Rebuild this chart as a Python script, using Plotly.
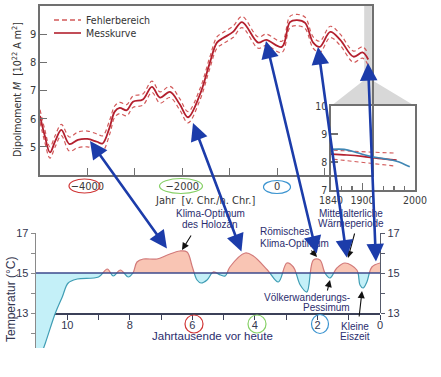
import plotly.graph_objects as go

W, H = 441, 377


def px(x):
    return x / W


def py(y):
    return 1 - y / H


# ---------------- data ----------------
# Top chart: geomagnetic dipole moment (10^22 A m^2) vs. year
dip_year = [-5000, -4900, -4790, -4680, -4550, -4380, -4200, -4000, -3800, -3680,
            -3530, -3425, -3320, -3170, -3040, -2830, -2640, -2470, -2260, -2050,
            -1880, -1630, -1420, -1270, -1140, -930, -740, -400, -230, 100,
            270, 420, 590, 760, 900, 1120, 1330, 1610, 1800, 1920]
dip_val = [6.1, 5.4, 4.8, 5.2, 5.6, 5.1, 5.25, 5.28, 5.18, 5.12,
           5.7, 6.25, 6.38, 6.3, 6.6, 6.68, 7.13, 6.75, 6.95, 6.5,
           6.05, 6.85, 7.98, 8.7, 8.86, 9.08, 9.43, 8.7, 8.8, 8.55,
           9.43, 9.5, 9.4, 8.7, 8.55, 9.08, 8.8, 8.2, 8.35, 8.1]
dip_err = [0.22, 0.22, 0.2, 0.2, 0.2, 0.25, 0.28, 0.28, 0.28, 0.27,
           0.25, 0.2, 0.2, 0.2, 0.2, 0.2, 0.2, 0.2, 0.2, 0.2,
           0.2, 0.2, 0.2, 0.2, 0.2, 0.2, 0.2, 0.2, 0.2, 0.2,
           0.2, 0.2, 0.2, 0.2, 0.2, 0.2, 0.2, 0.2, 0.2, 0.2]
dip_xticks = [-4000, -2000, 0]
dip_xticklabels = ["\u22124000", "\u22122000", "0"]
dip_xminor = [-3000, -1000, 1000]
dip_yticks = [5, 6, 7, 8, 9, 10]

# Inset 1840-2000
ins_blue_year = [1840, 1865, 1890, 1915, 1940, 1965, 1990]
ins_blue = [8.45, 8.45, 8.33, 8.2, 8.12, 8.03, 7.83]
ins_red_year = [1840, 1870, 1900, 1930, 1965]
ins_red = [8.28, 8.25, 8.2, 8.13, 8.07]
ins_band_year = [1845, 1880, 1920, 1960]
ins_hi = [8.42, 8.38, 8.35, 8.32]
ins_lo = [8.1, 8.03, 7.95, 7.86]
ins_xticks = [1840, 1900, 2000]
ins_yticks = [7, 8, 9, 10]

# Bottom chart: temperature (deg C) vs. millennia before today
T_ka = [11.0, 10.7, 10.38, 10.16, 9.97, 9.68, 9.0, 8.72, 8.53, 8.3,
        8.05, 7.9, 7.77, 7.57, 7.13, 6.8, 6.4, 6.17, 6.0, 5.85,
        5.72, 5.53, 5.33, 5.1, 4.95, 4.8, 4.31, 4.05, 3.6, 3.25,
        2.98, 2.77, 2.55, 2.34, 2.13, 1.92, 1.76, 1.6, 1.38, 1.12,
        0.74, 0.64, 0.54, 0.42, 0.26, 0.0]
T_val = [10.2, 11.5, 13.0, 13.8, 14.5, 14.7, 14.8, 15.2, 14.85, 15.15,
         14.8, 15.0, 15.55, 15.7, 15.7, 15.9, 16.1, 16.05, 15.3, 14.65,
         14.5, 14.65, 15.05, 14.9, 14.85, 15.3, 16.0, 15.85, 15.15, 14.55,
         15.5, 15.3, 14.4, 14.05, 15.65, 15.65, 15.0, 14.75, 15.25, 15.5,
         15.15, 14.4, 14.25, 14.55, 15.3, 15.5]
T_REF = 15
T_RANGE_KA = [11, 0]
T_xticks = [10, 8, 6, 4, 2, 0]
T_yticks = [13, 15, 17]

# ---------------- styles ----------------
TOPFONT = "Liberation Sans Narrow, DejaVu Sans Condensed, Arial Narrow, sans-serif"
BOTFONT = "Liberation Sans, Arial, sans-serif"
AXC = "#707070"
RED = "#b3202e"
RED_D = "#d25a5a"
BLUE_ARROW = "#1c3caa"
NAVY = "#2b2d6e"

fig = go.Figure()

# ---- top chart ----
fig.add_trace(go.Scatter(x=dip_year, y=[v + e for v, e in zip(dip_val, dip_err)],
                         mode="lines", line=dict(color=RED_D, width=1.2, dash="4px,3px", shape="spline"),
                         xaxis="x", yaxis="y", hoverinfo="skip"))
fig.add_trace(go.Scatter(x=dip_year, y=[v - e for v, e in zip(dip_val, dip_err)],
                         mode="lines", line=dict(color=RED_D, width=1.2, dash="4px,3px", shape="spline"),
                         xaxis="x", yaxis="y", hoverinfo="skip"))
fig.add_trace(go.Scatter(x=dip_year, y=dip_val, mode="lines",
                         line=dict(color=RED, width=1.8, shape="spline"),
                         xaxis="x", yaxis="y", name="Messkurve"))

# ---- inset ----
fig.add_trace(go.Scatter(x=ins_band_year, y=ins_hi, mode="lines",
                         line=dict(color=RED_D, width=1.1, dash="4px,3px"), xaxis="x2", yaxis="y2"))
fig.add_trace(go.Scatter(x=ins_band_year, y=ins_lo, mode="lines",
                         line=dict(color=RED_D, width=1.1, dash="4px,3px"), xaxis="x2", yaxis="y2"))
fig.add_trace(go.Scatter(x=ins_red_year, y=ins_red, mode="lines",
                         line=dict(color=RED, width=1.6, shape="spline"), xaxis="x2", yaxis="y2"))
fig.add_trace(go.Scatter(x=ins_blue_year, y=ins_blue, mode="lines",
                         line=dict(color="#3f86b4", width=1.6, shape="spline"), xaxis="x2", yaxis="y2"))

# ---- bottom chart: warm part (clipped to 15..17) ----
fig.add_trace(go.Scatter(x=T_RANGE_KA, y=[T_REF, T_REF], mode="lines",
                         line=dict(width=0), xaxis="x3", yaxis="y4", hoverinfo="skip"))
fig.add_trace(go.Scatter(x=T_ka, y=T_val, mode="lines", fill="tonexty",
                         fillcolor="#f9c5b4", line=dict(color="#d27a7a", width=1.2, shape="spline"),
                         xaxis="x3", yaxis="y4"))
# cold part (clipped to below 15)
fig.add_trace(go.Scatter(x=T_RANGE_KA, y=[T_REF, T_REF], mode="lines",
                         line=dict(width=0), xaxis="x3", yaxis="y5", hoverinfo="skip"))
fig.add_trace(go.Scatter(x=T_ka, y=T_val, mode="lines", fill="tonexty",
                         fillcolor="#c4f0f8", line=dict(color="#3f9db4", width=1.2, shape="spline"),
                         xaxis="x3", yaxis="y5"))
# dummy traces to create the axis subplots
fig.add_trace(go.Scatter(x=[None], y=[None], mode="lines", xaxis="x3", yaxis="y3", hoverinfo="skip"))
fig.add_trace(go.Scatter(x=[None], y=[None], mode="lines", xaxis="x3", yaxis="y6", hoverinfo="skip"))

topfont = dict(family=TOPFONT, size=11, color="#3a3a3a")
botfont = dict(family=BOTFONT, size=11, color="#33364f")

fig.update_layout(
    width=W, height=H, margin=dict(l=0, r=0, t=0, b=0, pad=0, autoexpand=False),
    paper_bgcolor="white", plot_bgcolor="rgba(0,0,0,0)", showlegend=False,
    xaxis=dict(domain=[px(40), px(372)], range=[-5000, 2000], anchor="y", automargin=False,
               showline=True, linecolor=AXC, linewidth=1.6, mirror=True,
               ticks="inside", ticklen=7, tickcolor=AXC, tickwidth=1.2,
               tickvals=dip_xticks, ticktext=dip_xticklabels, tickfont=topfont,
               minor=dict(tickvals=dip_xminor, ticks="inside", ticklen=7, tickcolor=AXC, tickwidth=1.2),
               showgrid=False, zeroline=False),
    yaxis=dict(domain=[py(175), py(6)], range=[4, 10], anchor="x", automargin=False,
               showline=True, linecolor=AXC, linewidth=1.6, mirror=True,
               ticks="inside", ticklen=7, tickcolor=AXC, tickwidth=1.2,
               tickvals=dip_yticks, tickfont=topfont,
               showgrid=False, zeroline=False),
    xaxis2=dict(domain=[px(331), px(415)], range=[1840, 2000], anchor="y2", automargin=False,
                showline=True, linecolor=AXC, linewidth=1.6, mirror=True,
                ticks="inside", ticklen=7, tickcolor=AXC, tickwidth=1.2,
                tickvals=ins_xticks, tickfont=dict(family=TOPFONT, size=10.5, color="#3a3a3a"),
                minor=dict(dtick=20, tick0=1840, ticks="inside", ticklen=4, tickcolor=AXC),
                showgrid=False, zeroline=False),
    yaxis2=dict(domain=[py(190), py(106)], range=[7, 10], anchor="x2", automargin=False,
                showline=True, linecolor=AXC, linewidth=1.6, mirror=True,
                ticks="inside", ticklen=7, tickcolor=AXC, tickwidth=1.2,
                tickvals=ins_yticks, tickfont=dict(family=TOPFONT, size=10.5, color="#3a3a3a"),
                showgrid=False, zeroline=False),
    xaxis3=dict(domain=[px(36), px(380)], range=T_RANGE_KA, anchor="free", position=py(313),
                automargin=False,
                showline=True, linecolor="#3b4058", linewidth=1.5,
                ticks="outside", ticklen=5, tickcolor="#3b4058", ticklabelstandoff=-4,
                tickvals=T_xticks, tickfont=botfont,
                minor=dict(dtick=1, tick0=0, ticks="outside", ticklen=5, tickcolor="#3b4058"),
                showgrid=False, zeroline=False),
    yaxis3=dict(domain=[py(348), py(233)], range=[11.25, 17], anchor="x3", side="left",
                automargin=False,
                showline=True, linecolor="#8a8a8a", linewidth=1.3,
                ticks="outside", ticklen=4, tickcolor="#8a8a8a",
                tickvals=T_yticks, tickfont=botfont,
                minor=dict(dtick=1, tick0=0, ticks="outside", ticklen=4, tickcolor="#8a8a8a"),
                showgrid=False, zeroline=False),
    yaxis4=dict(domain=[py(273), py(233)], range=[15, 17], anchor="x3", visible=False),
    yaxis5=dict(domain=[py(348), py(273)], range=[11.25, 15], anchor="x3", visible=False),
    yaxis6=dict(domain=[py(313), py(233)], range=[13, 17], anchor="x3", side="right",
                automargin=False,
                showline=True, linecolor="#555a6a", linewidth=1.3,
                ticks="outside", ticklen=4, tickcolor="#555a6a",
                tickvals=T_yticks, tickfont=botfont,
                minor=dict(dtick=1, tick0=0, ticks="outside", ticklen=4, tickcolor="#555a6a"),
                showgrid=False, zeroline=False),
)

shapes = []
# gray zoom strip + trapezoid
sx0, sx1 = 364.2, 371.8
shapes.append(dict(type="path", xref="paper", yref="paper", layer="below",
                   path=f"M {px(sx0)},{py(6)} L {px(sx1)},{py(6)} L {px(sx1)},{py(80)} "
                        f"L {px(415)},{py(106)} L {px(331)},{py(106)} L {px(sx0)},{py(80)} Z",
                   fillcolor="#d8d8d8", line=dict(width=0)))
# legend samples
shapes.append(dict(type="line", xref="paper", yref="paper", x0=px(54), x1=px(81), y0=py(20), y1=py(20),
                   line=dict(color=RED_D, width=1.4, dash="5px,3px")))
shapes.append(dict(type="line", xref="paper", yref="paper", x0=px(54), x1=px(81), y0=py(33), y1=py(33),
                   line=dict(color=RED, width=1.6)))
# 15 degree reference line
shapes.append(dict(type="line", xref="x3 domain", yref="y3", x0=0, x1=1, y0=T_REF, y1=T_REF,
                   line=dict(color="#3d4a8c", width=1.5), layer="above"))


def ellipse(cx, cy, w, h, color):
    return dict(type="circle", xref="paper", yref="paper",
                x0=px(cx - w / 2), x1=px(cx + w / 2), y0=py(cy + h / 2), y1=py(cy - h / 2),
                line=dict(color=color, width=1.2))


shapes += [ellipse(84.5, 186, 31, 14, "#d03535"), ellipse(181, 186, 43, 15, "#86d066"),
           ellipse(277, 187, 27, 13, "#3b94d0"),
           ellipse(194, 324, 18, 18, "#d03535"), ellipse(257, 324, 18, 18, "#86d066"),
           ellipse(320, 324, 17, 19, "#3b94d0")]
fig.update_layout(shapes=shapes)

ann = []


def text(t, x, y, xanchor="center", size=10, color=NAVY, family=BOTFONT, angle=0):
    ann.append(dict(text=t, x=px(x), y=py(y), xref="paper", yref="paper", showarrow=False,
                    xanchor=xanchor, yanchor="middle", textangle=angle,
                    font=dict(family=family, size=size, color=color)))


def arrow(head, tail, color, width, both=False, size=1.0):
    ann.append(dict(text="", x=px(head[0]), y=py(head[1]), xref="paper", yref="paper",
                    ax=tail[0] - head[0], ay=tail[1] - head[1], axref="pixel", ayref="pixel",
                    showarrow=True, arrowhead=2, arrowsize=size, arrowwidth=width, arrowcolor=color,
                    arrowside="end+start" if both else "end", startarrowhead=2, startarrowsize=size,
                    standoff=0, startstandoff=0))


# legend text / titles
text("Fehlerbereich", 84, 20, "left", 10.5, "#333", TOPFONT)
text("Messkurve", 84, 33, "left", 10.5, "#333", TOPFONT)
text("Dipolmoment <i>M</i>  [10<sup>22</sup> A m<sup>2</sup>]", 16, 90, "center", 10.5, "#333", TOPFONT, -90)
text("Jahr  [v. Chr./n. Chr.]", 205, 200, "center", 11, "#333", TOPFONT)
text("Temperatur (\u00b0C)", 11, 300, "center", 12, "#33364f", BOTFONT, -90)
text("Jahrtausende vor heute", 212, 336, "center", 11.5, NAVY)

# event labels
text("Klima-Optimum", 210, 214)
text("des Holoz\u00e4n", 210, 224)
text("R\u00f6misches", 258, 231, "left")
text("Klima-Optimum", 258, 243, "left")
text("Mittelalterliche", 351, 213)
text("W\u00e4rmeperiode", 351, 223)
text("V\u00f6lkerwanderungs-", 352, 297, "right")
text("Pessimum", 352, 307, "right")
text("Kleine", 355, 326)
text("Eiszeit", 355, 336)

# black pointer arrows
arrow((182, 250), (192, 234), "#111", 1.1, size=1.3)
arrow((317, 257), (310, 249), "#111", 1.1, size=1.3)
arrow((348, 258), (355, 232), "#111", 1.1, size=1.3)
arrow((330, 280), (327, 292), "#111", 1.1, size=1.3)
arrow((362, 291), (359, 318), "#111", 1.1, size=1.3)

# blue connecting arrows
arrow((90, 141), (168, 250), BLUE_ARROW, 2.6, both=True, size=1.35)
arrow((193, 123), (242, 253), BLUE_ARROW, 2.6, both=True, size=1.35)
arrow((266, 41), (317, 255), BLUE_ARROW, 2.6, both=True, size=1.35)
arrow((318, 47), (347, 259), BLUE_ARROW, 2.6, both=True, size=1.35)
arrow((368, 63), (376, 263), BLUE_ARROW, 2.6, both=True, size=1.35)

fig.update_layout(annotations=ann)

fig.write_html("out.html", config={"displayModeBar": False, "staticPlot": True},
               post_script="document.body.style.margin='0';document.body.style.padding='0';"
                           "document.documentElement.style.overflow='hidden';")
